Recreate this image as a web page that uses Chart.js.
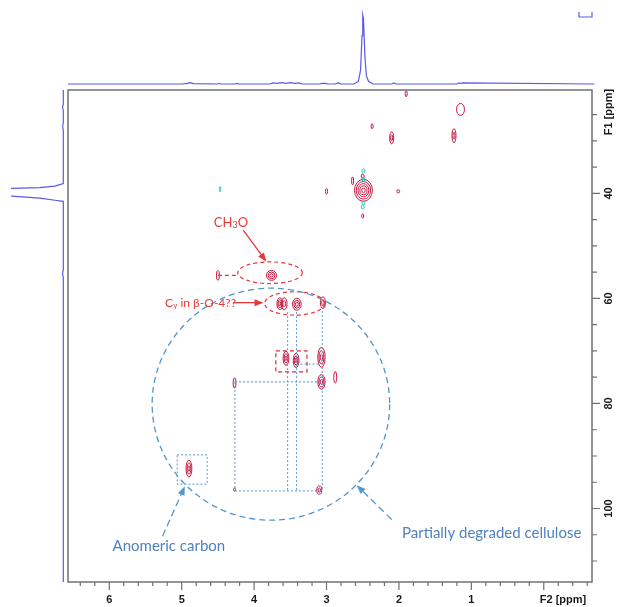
<!DOCTYPE html>
<html>
<head>
<meta charset="utf-8">
<script src="https://cdn.jsdelivr.net/npm/chart.js@4.4.1/dist/chart.umd.min.js"></script>
<style>
html, body { margin: 0; padding: 0; background: #fff; }
#wrap { width: 621px; height: 607px; }
</style>
</head>
<body>
<div id="wrap"><canvas id="canvas" width="621" height="607"></canvas></div>
<script>
// HSQC cross peaks: F2 (1H) and F1 (13C) shifts in ppm
const peakH = [1.90, 1.15, 2.37, 2.10, 1.24, 2.49, 2.64, 3.00, 2.01, 2.50, 2.50, 4.50, 3.76, 3.645, 3.585, 3.41, 3.05, 3.56, 3.42, 3.07, 3.07, 2.88, 4.90, 4.27, 3.10, 4.27, 2.49, 2.49, 2.49, 2.50, 4.47]
const peakC = [21.0, 24.0, 27.2, 29.4, 29.0, 39.4, 37.6, 39.6, 39.6, 44.3, 36.7, 55.6, 55.6, 61.0, 61.0, 61.1, 60.8, 71.4, 71.8, 71.2, 75.9, 75.0, 92.4, 96.4, 96.5, 76.1, 35.7, 37.3, 41.8, 42.6, 39.2]
// half widths of the outer contour, in ppm
const peakWH = [0.014, 0.055, 0.014, 0.028, 0.028, 0.124, 0.014, 0.014, 0.02, 0.014, 0.02, 0.02, 0.07, 0.04, 0.04, 0.06, 0.035, 0.04, 0.04, 0.05, 0.05, 0.02, 0.04, 0.014, 0.035, 0.02, 0.02, 0.02, 0.02, 0.02, 0.01]
const peakWC = [0.6, 1.14, 0.48, 1.14, 1.33, 2.1, 0.76, 0.57, 0.3, 0.4, 0.4, 0.95, 0.95, 1.14, 1.14, 1.14, 1.1, 1.33, 1.33, 1.9, 1.4, 1.1, 1.6, 0.3, 0.8, 1.0, 0.4, 0.4, 0.4, 0.4, 0.5]
// number of contour levels, and phase (1 = positive / red, -1 = negative / cyan)
const peakLevels = [1, 1, 1, 2, 2, 5, 1, 1, 1, 1, 1, 1, 3, 3, 2, 3, 2, 3, 3, 3, 3, 1, 3, 1, 2, 1, 1, 1, 1, 1, 1]
const peakSign = [1, 1, 1, 1, 1, 1, 1, 1, 1, 1, 1, 1, 1, 1, 1, 1, 1, 1, 1, 1, 1, 1, 1, 1, 1, 1, -1, -1, -1, -1, -1]

// 1D projections (intensity 0..100)
const topPpm = [6.57, 5.0, 4.92, 4.88, 4.84, 4.5, 4.48, 4.46, 4.27, 4.24, 4.21, 3.78, 3.74, 3.68, 3.62, 3.56, 3.5, 3.44, 3.38, 3.34, 3.1, 3.06, 3.02, 2.98, 2.88, 2.84, 2.80, 2.62, 2.56, 2.53, 2.51, 2.50, 2.49, 2.47, 2.45, 2.42, 2.36, 2.10, 2.07, 2.04, 1.20, 1.17, 1.15, 1.12, -0.7]
const topInt = [0, 0, 1, 2, 0.5, 0, 1, 0, 0, 1, 0, 0, 1.5, 0.8, 2, 1, 2, 1, 1.5, 0, 0, 1, 1, 0, 0, 1.5, 0, 0, 4, 20, 70, 100, 95, 40, 12, 4, 0, 0, 1.5, 0, 0, 1.5, 0.8, 1.5, 0]
const leftPpm = [20.3, 23.0, 23.6, 24.2, 26.5, 27.2, 28.0, 38.1, 38.6, 38.9, 39.05, 39.3, 39.8, 40.3, 40.5, 40.9, 41.3, 41.5, 54.5, 55.3, 56.0, 114.0]
const leftInt = [0, 0, 1.5, 0, 0, 1.2, 0, 0, 16, 45, 98, 130, 140, 130, 98, 45, 16, 0, 0, 1.5, 0, 0]

// axis ticks
const xTickValues = [6, 5, 4, 3, 2, 1]
const xTickLabels = ['6', '5', '4', '3', '2', '1']
const yTickValues = [40, 60, 80, 100]
const yTickLabels = ['40', '60', '80', '100']

// plot frame on the page
const frame = { left: 68, right: 592, top: 90, bottom: 582 }

// scale range so that intensity 0 and 100 land on the given pixels
function spanFor(px0, px100, pMin, pMax) {
    const k = (px100 - px0) / 100
    let a = (pMin - px0) / k, b = (pMax - px0) / k
    return a < b ? { min: a, max: b, reverse: false } : { min: b, max: a, reverse: true }
}
const topSpan = spanFor(84, 15, frame.bottom, frame.top)
const leftSpan = spanFor(63.3, 11, frame.left, frame.right)

const RED = '#e4393b'
const BLUE = '#5296cf'
const TXTBLUE = '#4f81bd'

function px(chart, h, c) {
    return [chart.scales.x.getPixelForValue(h), chart.scales.y.getPixelForValue(c)]
}

function ellipseAt(ctx, chart, h, c, rh, rc) {
    const [x, y] = px(chart, h, c)
    const rx = Math.abs(chart.scales.x.getPixelForValue(h + rh) - x)
    const ry = Math.abs(chart.scales.y.getPixelForValue(c + rc) - y)
    ctx.beginPath()
    ctx.ellipse(x, y, rx, ry, 0, 0, Math.PI * 2)
    ctx.stroke()
}

function polyline(ctx, chart, pts) {
    ctx.beginPath()
    pts.forEach((p, i) => {
        const [x, y] = px(chart, p[0], p[1])
        if (i === 0) ctx.moveTo(x, y); else ctx.lineTo(x, y)
    })
    ctx.stroke()
}

function arrow(ctx, chart, h0, c0, h1, c1, color, dash) {
    const [x0, y0] = px(chart, h0, c0)
    const [x1, y1] = px(chart, h1, c1)
    const a = Math.atan2(y1 - y0, x1 - x0)
    const len = 9, half = 3.5
    ctx.save()
    ctx.strokeStyle = color
    ctx.fillStyle = color
    ctx.lineWidth = 1.3
    ctx.setLineDash(dash)
    ctx.beginPath()
    ctx.moveTo(x0, y0)
    ctx.lineTo(x1 - Math.cos(a) * len * 0.8, y1 - Math.sin(a) * len * 0.8)
    ctx.stroke()
    ctx.setLineDash([])
    ctx.beginPath()
    ctx.moveTo(x1, y1)
    ctx.lineTo(x1 - Math.cos(a) * len - Math.sin(a) * half, y1 - Math.sin(a) * len + Math.cos(a) * half)
    ctx.lineTo(x1 - Math.cos(a) * len + Math.sin(a) * half, y1 - Math.sin(a) * len - Math.cos(a) * half)
    ctx.closePath()
    ctx.fill()
    ctx.restore()
}

// draws text pieces in a row, [text, size, dy]
function richText(ctx, x, y, parts, family, color, align) {
    let total = 0
    parts.forEach(p => { ctx.font = p[1] + 'px ' + family; total += ctx.measureText(p[0]).width })
    let cx = align === 'center' ? x - total / 2 : x
    ctx.fillStyle = color
    ctx.textAlign = 'left'
    ctx.textBaseline = 'middle'
    parts.forEach(p => {
        ctx.font = p[1] + 'px ' + family
        ctx.fillText(p[0], cx, y + p[2])
        cx += ctx.measureText(p[0]).width
    })
}

const hsqcDecor = {
    id: 'hsqcDecor',
    afterDatasetsDraw(chart) {
        // contour plot of the cross peaks
        const ctx = chart.ctx
        const meta = chart.getDatasetMeta(2)
        const xs = chart.scales.x, ys = chart.scales.y
        ctx.save()
        ctx.lineWidth = 1
        meta.data.forEach((el, i) => {
            const rx = Math.abs(xs.getPixelForValue(peakH[i] + peakWH[i]) - el.x)
            const ry = Math.abs(ys.getPixelForValue(peakC[i] + peakWC[i]) - el.y)
            ctx.strokeStyle = peakSign[i] > 0 ? '#c8163f' : '#2cc3cc'
            const n = peakLevels[i]
            for (let k = 0; k < n; k++) {
                const f = 1 - k / n
                ctx.beginPath()
                ctx.ellipse(el.x, el.y, Math.max(rx * f, 0.8), Math.max(ry * f, 0.9), 0, 0, Math.PI * 2)
                ctx.stroke()
            }
        })
        ctx.restore()
    },
    afterDraw(chart) {
        const ctx = chart.ctx
        const area = chart.chartArea
        const xs = chart.scales.x, ys = chart.scales.y

        // frame
        ctx.save()
        ctx.strokeStyle = '#707070'
        ctx.lineWidth = 1.5
        ctx.strokeRect(area.left, area.top, area.right - area.left, area.bottom - area.top)

        // ticks
        ctx.lineWidth = 1.2
        ctx.beginPath()
        for (let v = -6; v <= 64; v += 2) {
            const p = xs.getPixelForValue(v / 10)
            const len = v % 10 === 0 ? 8 : 4
            ctx.moveTo(p, area.bottom); ctx.lineTo(p, area.bottom + len)
        }
        for (let v = 25; v <= 110; v += 5) {
            const p = ys.getPixelForValue(v)
            const len = v % 20 === 0 ? 8 : 5
            ctx.moveTo(area.right, p); ctx.lineTo(area.right + len, p)
        }
        ctx.stroke()

        // tick labels
        ctx.fillStyle = '#1a1a1a'
        ctx.font = 'bold 11px "Liberation Sans", Arial, sans-serif'
        ctx.textAlign = 'center'
        ctx.textBaseline = 'middle'
        xTickValues.forEach((v, i) => ctx.fillText(xTickLabels[i], xs.getPixelForValue(v), 600))
        ctx.textAlign = 'left'
        ctx.fillText('F2 [ppm]', xs.getPixelForValue(0) - 4, 600)
        yTickValues.forEach((v, i) => {
            ctx.save()
            ctx.translate(609, ys.getPixelForValue(v))
            ctx.rotate(-Math.PI / 2)
            ctx.textAlign = 'center'
            ctx.fillText(yTickLabels[i], 0, 0)
            ctx.restore()
        })
        ctx.save()
        ctx.translate(609, 112)
        ctx.rotate(-Math.PI / 2)
        ctx.textAlign = 'center'
        ctx.fillText('F1 [ppm]', 0, 0)
        ctx.restore()

        // small projection marker, top right
        ctx.strokeStyle = '#5a5ae6'
        ctx.lineWidth = 1.2
        ctx.beginPath()
        ctx.moveTo(area.right - 13, 12); ctx.lineTo(area.right - 13, 17)
        ctx.lineTo(area.right, 17); ctx.lineTo(area.right, 12)
        ctx.stroke()
        ctx.restore()

        // --- annotations (positions in ppm) ---
        ctx.save()
        // red: methoxyl and C-gamma
        ctx.strokeStyle = RED
        ctx.lineWidth = 1.2
        ctx.setLineDash([4, 3])
        ellipseAt(ctx, chart, 3.78, 55.1, 0.446, 2.06)
        ellipseAt(ctx, chart, 3.44, 60.95, 0.414, 2.23)
        polyline(ctx, chart, [[4.50, 55.6], [4.22, 55.6]])
        ctx.strokeStyle = '#d02a3a'
        polyline(ctx, chart, [[3.70, 70.0], [3.27, 70.0], [3.27, 74.0], [3.70, 74.0], [3.70, 70.0]])

        // blue: cellulose correlations
        ctx.strokeStyle = BLUE
        ctx.lineWidth = 1
        ctx.setLineDash([2, 2])
        polyline(ctx, chart, [[3.537, 62.6], [3.537, 96.65]])
        polyline(ctx, chart, [[3.413, 62.6], [3.413, 96.65]])
        polyline(ctx, chart, [[3.059, 62.4], [3.059, 96.65]])
        polyline(ctx, chart, [[4.265, 96.65], [3.059, 96.65]])
        polyline(ctx, chart, [[4.265, 75.89], [4.265, 96.65]])
        polyline(ctx, chart, [[4.265, 75.89], [3.059, 75.89]])
        polyline(ctx, chart, [[3.413, 72.5], [3.09, 72.5]])
        polyline(ctx, chart, [[5.062, 89.79], [4.648, 89.79], [4.648, 95.37], [5.062, 95.37], [5.062, 89.79]])
        ctx.lineWidth = 1.3
        ctx.setLineDash([6, 4])
        ellipseAt(ctx, chart, 3.768, 80.13, 1.64, 22.1)
        ctx.restore()

        arrow(ctx, chart, 4.15, 47.0, 3.83, 53.0, RED, [])
        arrow(ctx, chart, 4.29, 60.8, 3.87, 60.8, RED, [])
        arrow(ctx, chart, 5.264, 105.28, 4.956, 95.75, BLUE, [7, 4])
        arrow(ctx, chart, 2.10, 102.1, 2.584, 95.56, BLUE, [7, 4])

        // labels
        const fam = 'Lato, "Open Sans", sans-serif'
        let [tx, ty] = px(chart, 4.32, 45.5)
        richText(ctx, tx, ty, [['CH', 13, 0], ['3', 9, 3], ['O', 13, 0]], fam, RED, 'center')
        ;[tx, ty] = px(chart, 5.23, 60.85)
        richText(ctx, tx, ty, [['C', 12, 0], ['\u03b3', 8, 3], [' in \u03b2-O-4??', 12, 0]], fam, RED, 'left')
        ;[tx, ty] = px(chart, 5.177, 107.2)
        richText(ctx, tx, ty, [['Anomeric carbon', 15, 0]], fam, TXTBLUE, 'center')
        ;[tx, ty] = px(chart, 0.72, 104.65)
        richText(ctx, tx, ty, [['Partially degraded cellulose', 15, 0]], fam, TXTBLUE, 'center')
    }
}

const canvas = document.getElementById('canvas').getContext('2d')

const config = {
    type: 'scatter',
    data: {
        datasets: [{
            label: '1H projection',
            data: topPpm.map((p, i) => ({ x: p, y: topInt[i] })),
            showLine: true,
            borderColor: '#5a5ae6',
            borderWidth: 1.2,
            pointRadius: 0,
            xAxisID: 'x',
            yAxisID: 'yTop',
            clip: false
        }, {
            label: '13C projection',
            data: leftPpm.map((p, i) => ({ x: leftInt[i], y: p })),
            showLine: true,
            borderColor: '#5a5ae6',
            borderWidth: 1.2,
            pointRadius: 0,
            xAxisID: 'xLeft',
            yAxisID: 'y',
            clip: { left: 57, right: 0, top: 0, bottom: 0 }
        }, {
            label: 'HSQC peaks',
            data: peakH.map((h, i) => ({ x: h, y: peakC[i] })),
            pointRadius: 0,
            xAxisID: 'x',
            yAxisID: 'y'
        }]
    },
    options: {
        responsive: false,
        animation: false,
        layout: { padding: { left: frame.left, right: 621 - frame.right, top: frame.top, bottom: 607 - frame.bottom } },
        plugins: { legend: { display: false }, tooltip: { enabled: false } },
        scales: {
            x: { type: 'linear', display: false, reverse: true, min: -0.666, max: 6.57 },
            y: { type: 'linear', display: false, reverse: true, min: 20.3, max: 114.0 },
            yTop: { type: 'linear', display: false, min: topSpan.min, max: topSpan.max, reverse: topSpan.reverse },
            xLeft: { type: 'linear', display: false, min: leftSpan.min, max: leftSpan.max, reverse: leftSpan.reverse }
        }
    },
    plugins: [hsqcDecor]
}

myChart = new Chart(canvas, config)
</script>
</body>
</html>
